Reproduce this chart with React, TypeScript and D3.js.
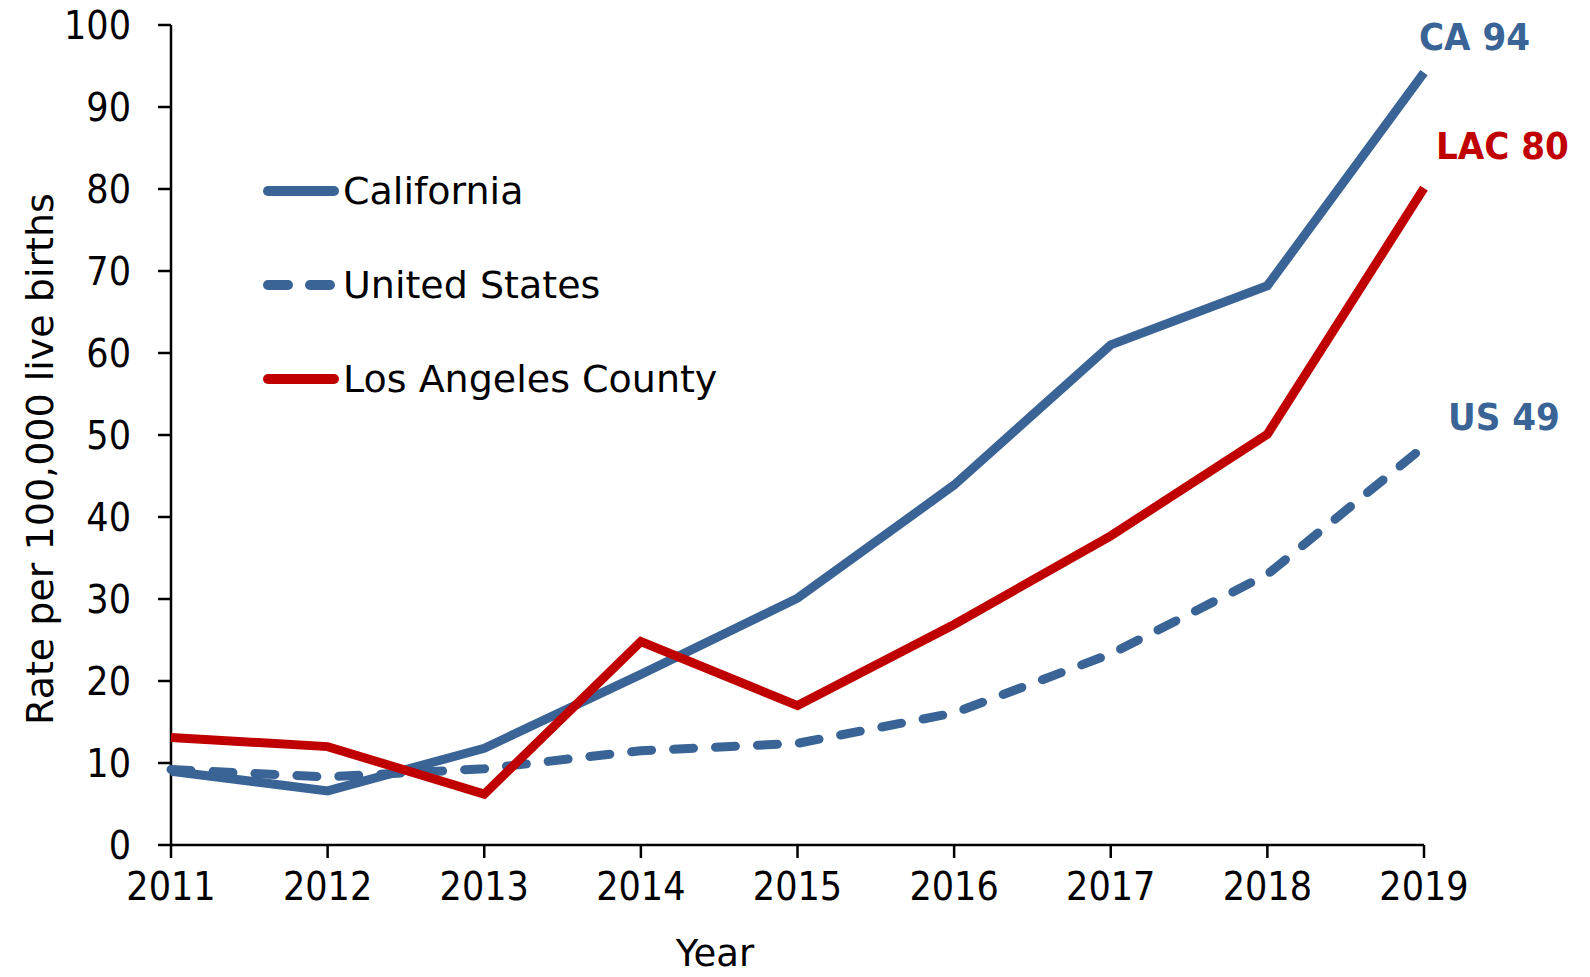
import * as d3 from "d3";
import React from "react";

const years = [2011, 2012, 2013, 2014, 2015, 2016, 2017, 2018, 2019];
const california = [9.0, 6.6, 11.8, 20.8, 30.1, 43.9, 61.0, 68.2, 94.2];
const unitedStates = [9.2, 8.3, 9.3, 11.5, 12.4, 16.1, 23.3, 33.0, 48.6];
const losAngeles = [13.1, 12.0, 6.2, 24.8, 17.0, 26.9, 37.7, 50.1, 80.1];
const yTicks = [0, 10, 20, 30, 40, 50, 60, 70, 80, 90, 100];

const blue = "#3a6496";
const red = "#c00000";

const series = [
  { name: "California", values: california, color: blue, dash: null, tag: "CA 94" },
  { name: "United States", values: unitedStates, color: blue, dash: "20 22", tag: "US 49" },
  { name: "Los Angeles County", values: losAngeles, color: red, dash: null, tag: "LAC 80" },
];

const W = 1590;
const H = 977;

export default function App() {
  const x = d3.scaleLinear().domain([2011, 2019]).range([171, 1424]);
  const y = d3.scaleLinear().domain([0, 100]).range([845, 25]);

  const line = d3
    .line<number>()
    .x((d, i) => x(years[i]))
    .y(d => y(d));

  const font = "'DejaVu Sans', Verdana, sans-serif";
  const condensed = "'DejaVu Sans Condensed', 'DejaVu Sans', sans-serif";

  // end-of-line labels, offset from the last point
  const tagPos = [
    { dx: -5, dy: -23, color: blue },
    { dx: 24, dy: -16, color: blue },
    { dx: 12, dy: -29, color: red },
  ];

  return (
    <svg width={W} height={H} style={{ position: "absolute", left: 0, top: 0 }}>
      <rect width={W} height={H} fill="white" />

      {/* y axis */}
      <line x1={x(2011)} x2={x(2011)} y1={y(100)} y2={y(0)} stroke="black" strokeWidth={2.5} />
      {yTicks.map(t => (
        <g key={t}>
          <line x1={x(2011) - 13} x2={x(2011)} y1={y(t)} y2={y(t)} stroke="black" strokeWidth={2.5} />
          <text
            x={x(2011) - 40}
            y={y(t) + 14}
            textAnchor="end"
            fontFamily={condensed}
            fontSize={39}
          >
            {t}
          </text>
        </g>
      ))}

      {/* x axis */}
      <line x1={x(2011)} x2={x(2019)} y1={y(0)} y2={y(0)} stroke="black" strokeWidth={2.5} />
      {years.map(yr => (
        <g key={yr}>
          <line x1={x(yr)} x2={x(yr)} y1={y(0)} y2={y(0) + 13} stroke="black" strokeWidth={2.5} />
          <text x={x(yr)} y={y(0) + 55} textAnchor="middle" fontFamily={condensed} fontSize={39}>
            {yr}
          </text>
        </g>
      ))}

      <text x={715} y={966} textAnchor="middle" fontFamily={font} fontSize={37}>
        Year
      </text>
      <text
        transform={`translate(53, ${y(50) + 24}) rotate(-90)`}
        textAnchor="middle"
        fontFamily={font}
        fontSize={38}
      >
        Rate per 100,000 live births
      </text>

      {/* lines */}
      {series.map(s => (
        <path
          key={s.name}
          d={line(s.values) || ""}
          fill="none"
          stroke={s.color}
          strokeWidth={9}
          strokeLinejoin="miter"
          strokeLinecap={s.dash ? "round" : "butt"}
          strokeDasharray={s.dash || undefined}
        />
      ))}

      {/* end labels */}
      {series.map((s, i) => {
        const last = s.values[s.values.length - 1];
        return (
          <text
            key={s.tag}
            x={x(2019) + tagPos[i].dx}
            y={y(last) + tagPos[i].dy}
            fill={tagPos[i].color}
            fontFamily={condensed}
            fontWeight="bold"
            fontSize={38}
          >
            {s.tag}
          </text>
        );
      })}

      {/* legend */}
      {series.map((s, i) => {
        const ly = 191 + i * 94;
        return (
          <g key={s.name}>
            <line
              x1={268}
              x2={334}
              y1={ly}
              y2={ly}
              stroke={s.color}
              strokeWidth={10}
              strokeLinecap="round"
              strokeDasharray={s.dash ? "20 22" : undefined}
            />
            <text x={343} y={ly + 13} fontFamily={font} fontSize={38}>
              {s.name}
            </text>
          </g>
        );
      })}
    </svg>
  );
}
